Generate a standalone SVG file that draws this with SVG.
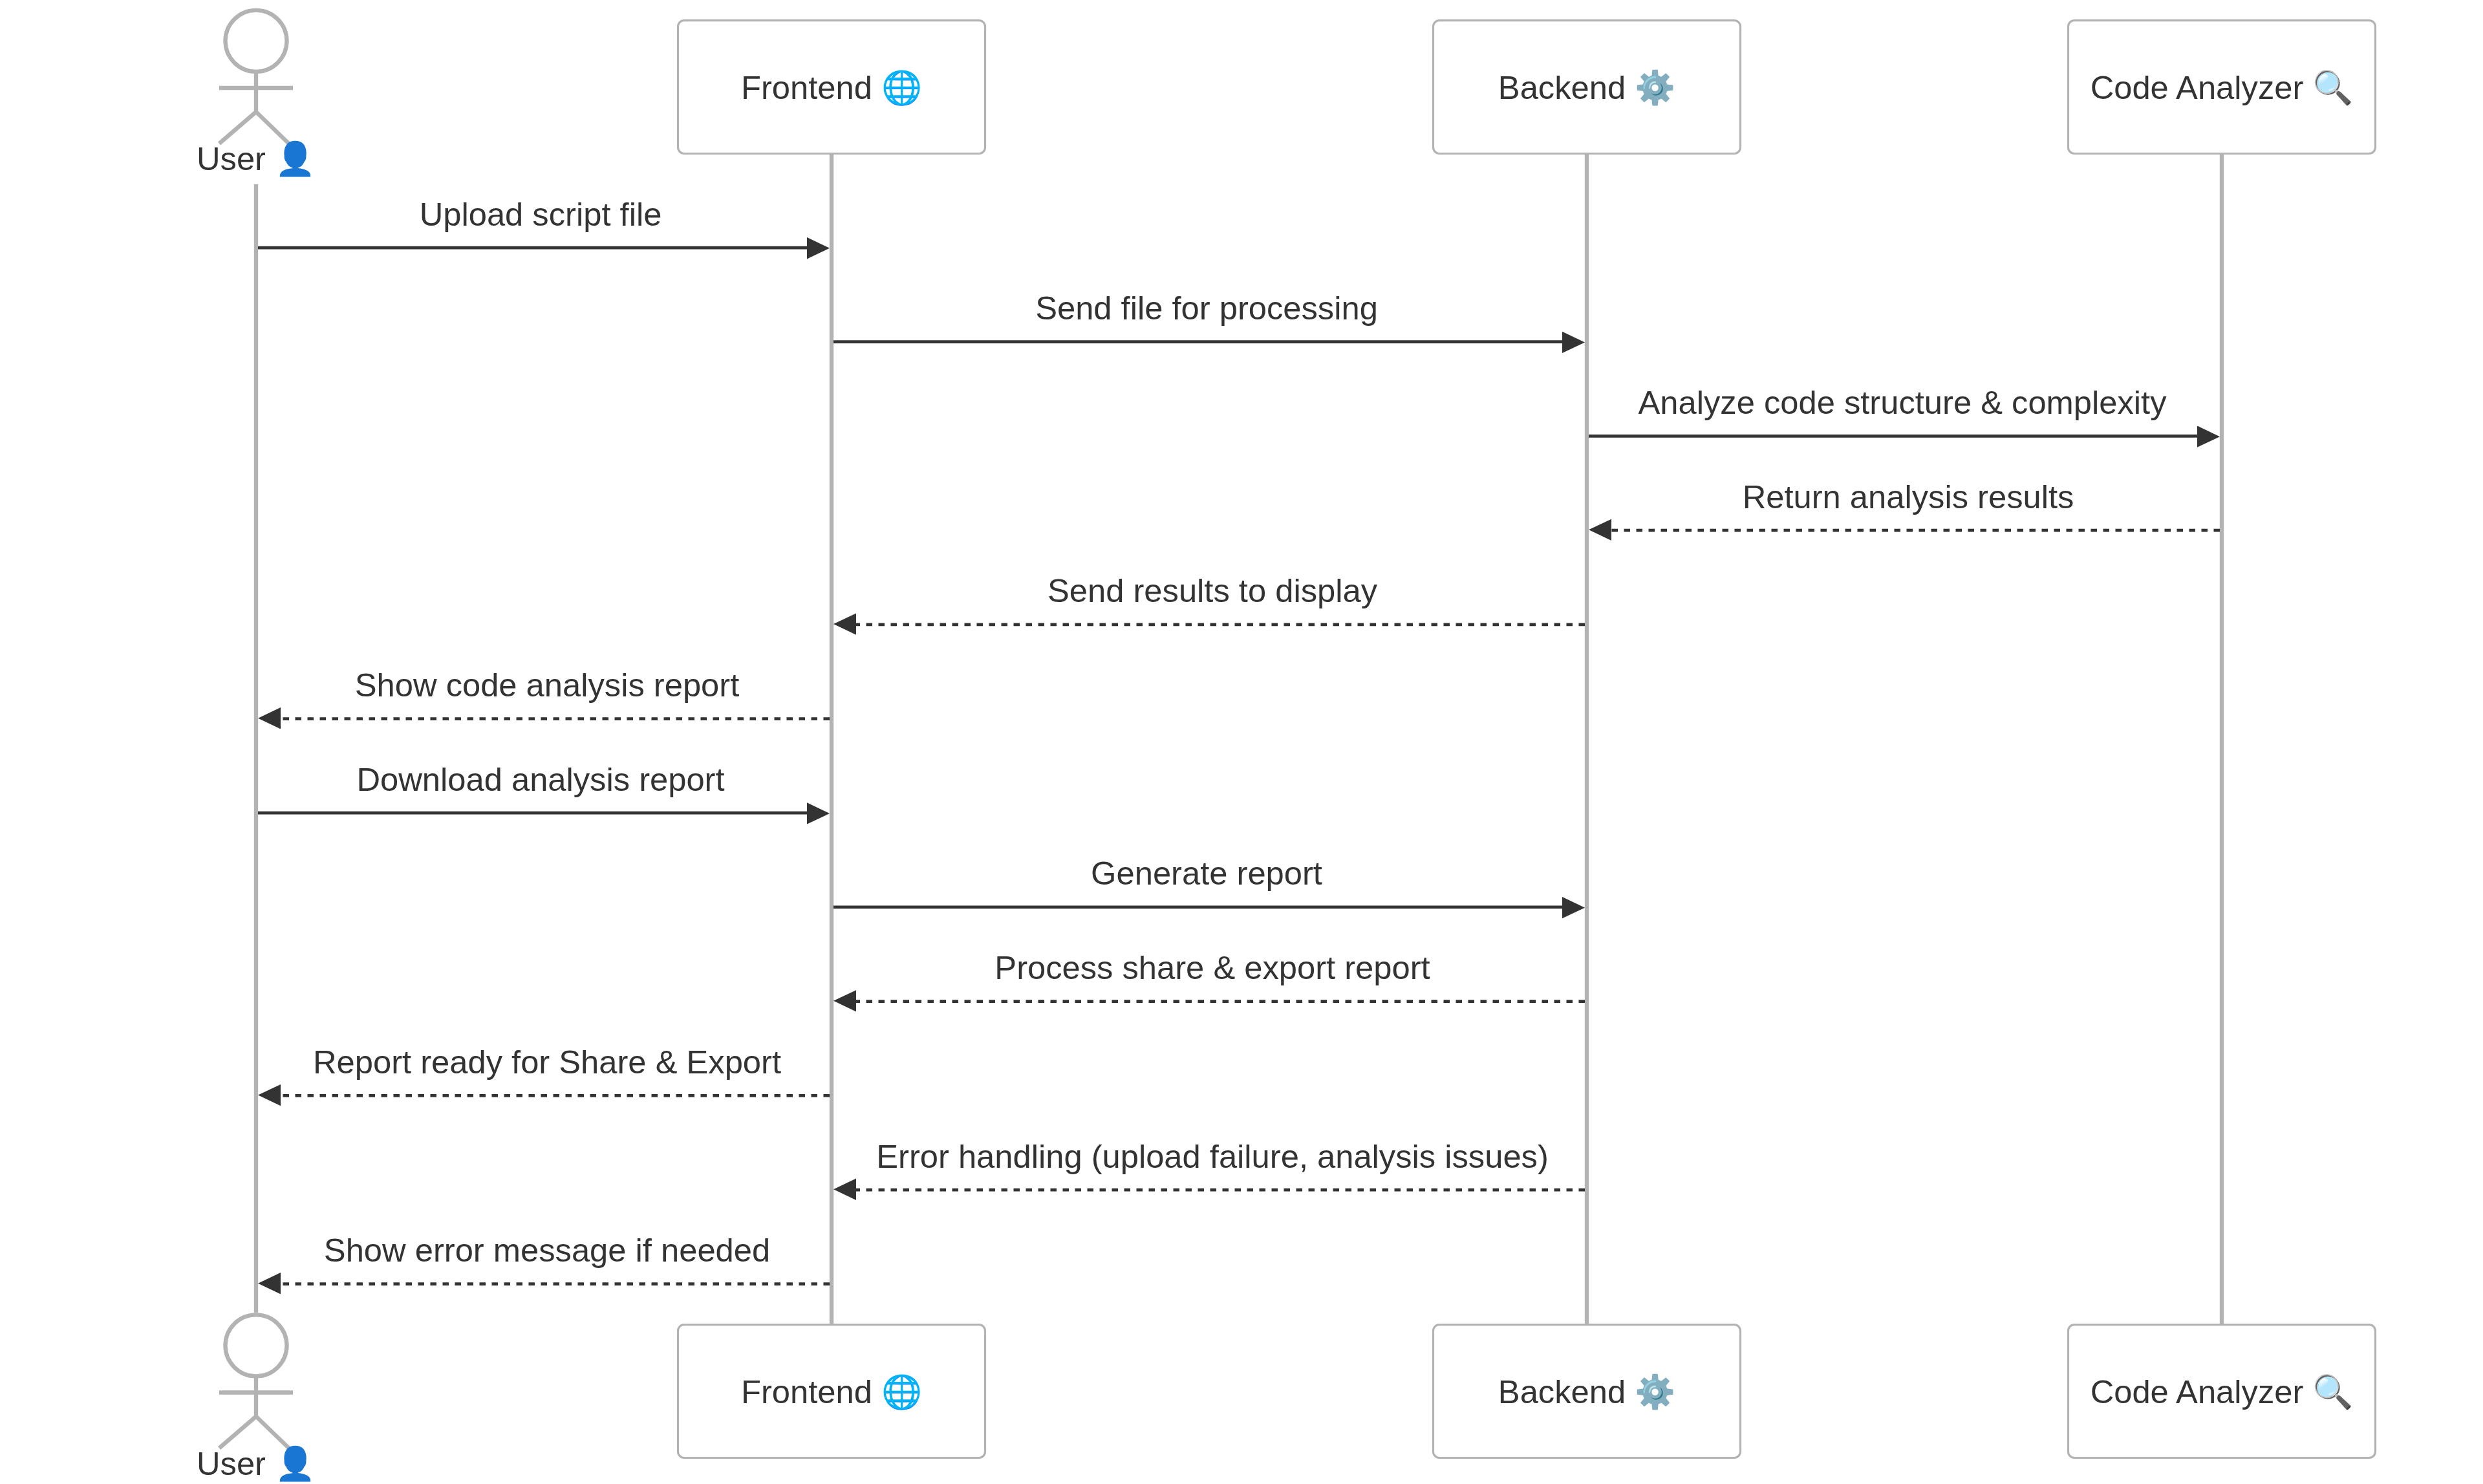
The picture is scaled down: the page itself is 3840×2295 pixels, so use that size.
<svg xmlns="http://www.w3.org/2000/svg" width="3840" height="2295" viewBox="0 0 3840 2295">
<style>
text{font-family:"Liberation Sans",Arial,sans-serif;font-size:50.7px;fill:#333;text-anchor:middle}
.box{fill:#fff;stroke:#b3b3b3;stroke-width:3.17}
.life{stroke:#b3b3b3;stroke-width:6.34;fill:none}
.stick{stroke:#b3b3b3;stroke-width:6.34;fill:none}
.msg{stroke:#333;stroke-width:4.75;fill:none;marker-end:url(#arrow)}
.dash{stroke-dasharray:9.5 9.5}
</style>
<defs>
<marker id="arrow" markerUnits="userSpaceOnUse" viewBox="0 0 35 34" markerWidth="35" markerHeight="34" refX="5" refY="15.9" orient="auto"><path d="M0,0L35,16.65L0,33.3z" fill="#333"/></marker>
</defs>
<g id="lifelines">
<line class="life" x1="396" y1="285" x2="396" y2="2030"/>
<line class="life" x1="1286" y1="237.5" x2="1286" y2="2048.7"/>
<line class="life" x1="2454" y1="237.5" x2="2454" y2="2048.7"/>
<line class="life" x1="3436" y1="237.5" x2="3436" y2="2048.7"/>
</g>
<g id="actor-user-top">
<circle class="stick" cx="396" cy="63.3" r="47.5"/>
<path class="stick" d="M396,110.8V173M339,136H453M396,173L339,222M396,173L446.7,222"/>
<text x="396" y="263">User 👤</text>
</g>
<g id="actor-frontend-top"><rect class="box" x="1048.5" y="31.7" width="475" height="205.8" rx="9.5"/><text x="1286" y="153">Frontend 🌐</text></g>
<g id="actor-backend-top"><rect class="box" x="2216.5" y="31.7" width="475" height="205.8" rx="9.5"/><text x="2454" y="153">Backend ⚙️</text></g>
<g id="actor-analyzer-top"><rect class="box" x="3198.5" y="31.7" width="475" height="205.8" rx="9.5"/><text x="3436" y="153">Code Analyzer 🔍</text></g>
<g id="connectors">
<line class="msg" x1="399" y1="383" x2="1253" y2="383"/>
<line class="msg" x1="1289" y1="528.7" x2="2421" y2="528.7"/>
<line class="msg" x1="2457" y1="674.4" x2="3403" y2="674.4"/>
<line class="msg dash" x1="3433" y1="820.1" x2="2487" y2="820.1"/>
<line class="msg dash" x1="2451" y1="965.8" x2="1319" y2="965.8"/>
<line class="msg dash" x1="1283" y1="1111.5" x2="429" y2="1111.5"/>
<line class="msg" x1="399" y1="1257.2" x2="1253" y2="1257.2"/>
<line class="msg" x1="1289" y1="1402.9" x2="2421" y2="1402.9"/>
<line class="msg dash" x1="2451" y1="1548.6" x2="1319" y2="1548.6"/>
<line class="msg dash" x1="1283" y1="1694.3" x2="429" y2="1694.3"/>
<line class="msg dash" x1="2451" y1="1840" x2="1319" y2="1840"/>
<line class="msg dash" x1="1283" y1="1985.5" x2="429" y2="1985.5"/>
</g>
<g id="labels">
<text x="836" y="348.5">Upload script file</text>
<text x="1866" y="494.2">Send file for processing</text>
<text x="2942" y="639.9">Analyze code structure &amp; complexity</text>
<text x="2951" y="785.6">Return analysis results</text>
<text x="1875" y="931.3">Send results to display</text>
<text x="846" y="1077">Show code analysis report</text>
<text x="836" y="1222.7">Download analysis report</text>
<text x="1866" y="1368.4">Generate report</text>
<text x="1875" y="1514.1">Process share &amp; export report</text>
<text x="846" y="1659.8">Report ready for Share &amp; Export</text>
<text x="1875" y="1805.5">Error handling (upload failure, analysis issues)</text>
<text x="846" y="1951">Show error message if needed</text>
</g>
<g id="actor-user-bottom">
<circle class="stick" cx="396" cy="2080.8" r="47.5"/>
<path class="stick" d="M396,2128.3V2190.5M339,2153.5H453M396,2190.5L339,2239.5M396,2190.5L446.7,2239.5"/>
<text x="396" y="2280.5">User 👤</text>
</g>
<g id="actor-frontend-bottom"><rect class="box" x="1048.5" y="2048.7" width="475" height="205.8" rx="9.5"/><text x="1286" y="2170">Frontend 🌐</text></g>
<g id="actor-backend-bottom"><rect class="box" x="2216.5" y="2048.7" width="475" height="205.8" rx="9.5"/><text x="2454" y="2170">Backend ⚙️</text></g>
<g id="actor-analyzer-bottom"><rect class="box" x="3198.5" y="2048.7" width="475" height="205.8" rx="9.5"/><text x="3436" y="2170">Code Analyzer 🔍</text></g>
</svg>
